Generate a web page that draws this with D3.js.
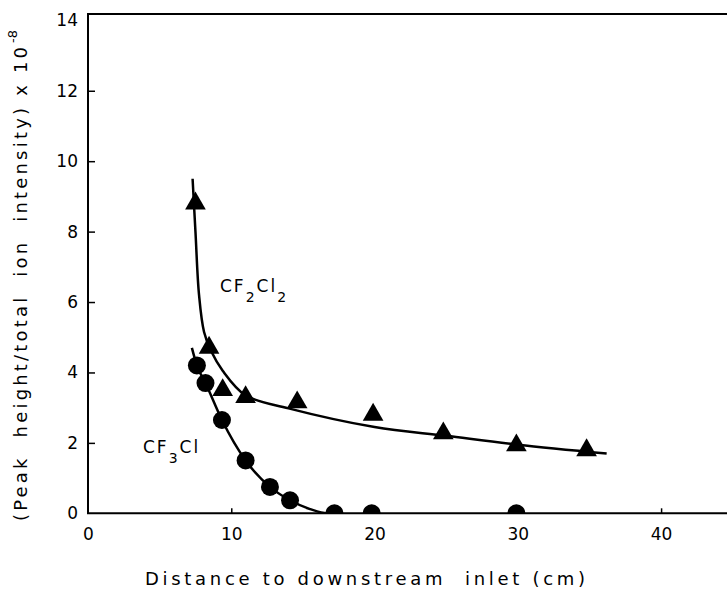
<!DOCTYPE html>
<html>
<head>
<meta charset="utf-8">
<script src="https://cdn.jsdelivr.net/npm/d3@7"></script>
<style>
  body { margin: 0; background: #fff; }
  svg { display: block; font-family: "DejaVu Sans", sans-serif; }
</style>
</head>
<body>
<div class="chart"></div>
<script>
// tick labels
const xTicks = [0, 10, 20, 30, 40];
const yTicks = [0, 2, 4, 6, 8, 10, 12, 14];

// measured points (triangles)
const cf2cl2X = [7.5, 8.45, 9.4, 11.0, 14.6, 19.9, 24.8, 29.9, 34.8];
const cf2cl2Y = [8.8, 4.7, 3.5, 3.3, 3.15, 2.8, 2.27, 1.93, 1.79];

// measured points (circles)
const cf3clX = [7.6, 8.2, 9.35, 11.0, 12.7, 14.1, 17.2, 19.8, 29.9];
const cf3clY = [4.2, 3.7, 2.65, 1.5, 0.75, 0.37, 0.0, 0.0, 0.0];

// hand-drawn fit curves
const cf2cl2FitX = [7.3, 7.5, 7.75, 8.1, 8.6, 9.4, 11.0, 14.0, 20.0, 25.0, 30.0, 36.2];
const cf2cl2FitY = [9.5, 8.0, 6.2, 5.15, 4.6, 4.05, 3.35, 2.98, 2.45, 2.2, 1.95, 1.7];
const cf3clFitX = [7.25, 7.6, 8.2, 9.35, 11.0, 12.7, 14.1, 15.5, 16.7, 17.5];
const cf3clFitY = [4.7, 4.2, 3.7, 2.65, 1.5, 0.75, 0.37, 0.12, 0.0, 0.0];

function drawChart() {
    const w = 727;
    const h = 589;
    const left = 88, top = 14, bottom = 513.3;

    const xScale = d3.scaleLinear()
        .domain([0, 44.6])
        .range([left, w]);

    const yScale = d3.scaleLinear()
        .domain([0, 14.18])
        .range([bottom, top]);

    const svg = d3.select('.chart')
        .append('svg')
        .attr('width', w)
        .attr('height', h);

    svg.append('defs').append('clipPath')
        .attr('id', 'plot')
        .append('rect')
        .attr('x', left)
        .attr('y', top)
        .attr('width', w - left)
        .attr('height', bottom - top);

    const yAxis = d3.axisLeft(yScale)
        .tickValues(yTicks)
        .tickSizeInner(-7)
        .tickSizeOuter(0)
        .tickPadding(10);

    const xAxis = d3.axisBottom(xScale)
        .tickValues(xTicks)
        .tickSizeInner(-5)
        .tickSizeOuter(0)
        .tickPadding(15);

    const gy = svg.append('g')
        .attr('transform', 'translate(' + left + ',0)')
        .call(yAxis);
    const gx = svg.append('g')
        .attr('transform', 'translate(0,' + bottom + ')')
        .call(xAxis);

    for (let g of [gx, gy]) {
        g.select('.domain').remove();
        g.selectAll('line').attr('stroke', '#000').attr('stroke-width', 1.5);
        g.selectAll('text')
            .attr('fill', '#000')
            .style('font-size', '17px')
            .style('font-family', '"DejaVu Sans", sans-serif');
    }
    gy.selectAll('.tick').filter(d => d === 0 || d === 14).select('line').remove();
    gx.selectAll('.tick').filter(d => d === 0).select('line').remove();

    // frame: left axis, bottom axis, top rule
    svg.append('path')
        .attr('d', 'M' + w + ',' + yScale.range()[1] + 'H' + left + 'V' + bottom + 'H' + w)
        .attr('fill', 'none')
        .attr('stroke', '#000')
        .attr('stroke-width', 2);

    const plot = svg.append('g').attr('clip-path', 'url(#plot)');

    const line = d3.line()
        .x(d => xScale(d[0]))
        .y(d => yScale(d[1]))
        .curve(d3.curveCatmullRom.alpha(0.5));

    plot.append('path')
        .datum(d3.zip(cf2cl2FitX, cf2cl2FitY))
        .attr('d', line)
        .attr('fill', 'none')
        .attr('stroke', '#000')
        .attr('stroke-width', 2.5);

    plot.append('path')
        .datum(d3.zip(cf3clFitX, cf3clFitY))
        .attr('d', line.curve(d3.curveMonotoneX))
        .attr('fill', 'none')
        .attr('stroke', '#000')
        .attr('stroke-width', 2.5);

    plot.selectAll('.tri')
        .data(d3.zip(cf2cl2X, cf2cl2Y))
        .enter()
        .append('path')
        .attr('class', 'tri')
        .attr('d', d3.symbol(d3.symbolTriangle, 185))
        .attr('transform', d => 'translate(' + xScale(d[0]) + ',' + yScale(d[1]) + ')')
        .attr('fill', '#000');

    plot.selectAll('.dot')
        .data(d3.zip(cf3clX, cf3clY))
        .enter()
        .append('circle')
        .attr('class', 'dot')
        .attr('cx', d => xScale(d[0]))
        .attr('cy', d => yScale(d[1]))
        .attr('r', 9)
        .attr('fill', '#000');

    // series labels
    const lab1 = svg.append('text')
        .attr('x', 220)
        .attr('y', 292)
        .style('font-size', '17px')
        .style('letter-spacing', '2px');
    lab1.append('tspan').text('CF');
    lab1.append('tspan').attr('dy', 10).style('font-size', '14px').text('2');
    lab1.append('tspan').attr('dy', -10).text('Cl');
    lab1.append('tspan').attr('dy', 10).style('font-size', '14px').text('2');

    const lab2 = svg.append('text')
        .attr('x', 143)
        .attr('y', 453)
        .style('font-size', '17px')
        .style('letter-spacing', '2px');
    lab2.append('tspan').text('CF');
    lab2.append('tspan').attr('dy', 10).style('font-size', '14px').text('3');
    lab2.append('tspan').attr('dy', -10).text('Cl');

    // axis titles
    svg.append('text')
        .attr('x', 145)
        .attr('y', 585)
        .attr('textLength', 440)
        .attr('lengthAdjust', 'spacing')
        .style('font-size', '18px')
        .style('white-space', 'pre')
        .text('Distance to downstream  inlet (cm)');

    svg.append('text')
        .attr('transform', 'translate(27,521) rotate(-90)')
        .attr('x', 0)
        .attr('y', 0)
        .attr('textLength', 474)
        .attr('lengthAdjust', 'spacing')
        .style('font-size', '18px')
        .style('white-space', 'pre')
        .text('(Peak  height/total  ion  intensity) x 10');

    svg.append('text')
        .attr('transform', 'translate(27,521) rotate(-90)')
        .attr('x', 478)
        .attr('y', -10)
        .style('font-size', '13px')
        .text('-8');
}

drawChart();
</script>
</body>
</html>
